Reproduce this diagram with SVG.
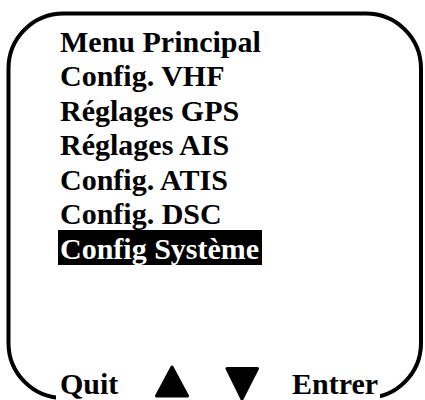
<svg xmlns="http://www.w3.org/2000/svg" width="425" height="400" viewBox="0 0 425 400">
  <style>
    .t { font-family: "Liberation Serif", "Times New Roman", serif; font-weight: bold; font-size: 30px; fill: #000; }
    .sel { fill: #fff; }
    .tri { fill: #000; stroke: #000; stroke-width: 3; stroke-linejoin: round; }
  </style>
  <rect width="425" height="400" fill="#fff"/>
  <g id="frame">
    <rect x="8.5" y="13.5" width="412.5" height="384.5" rx="55" ry="55" fill="none" stroke="#000" stroke-width="4"/>
  </g>
  <g id="menu">
    <text class="t" x="60" y="51.5">Menu Principal</text>
    <text class="t" x="60" y="86">Config. VHF</text>
    <text class="t" x="60" y="120.5">Réglages GPS</text>
    <text class="t" x="60" y="155">Réglages AIS</text>
    <text class="t" x="60" y="189.5">Config. ATIS</text>
    <text class="t" x="60" y="224">Config. DSC</text>
    <g id="selected">
      <rect x="58" y="230" width="204" height="35" fill="#000"/>
      <text class="t sel" x="60" y="258.5">Config Système</text>
    </g>
  </g>
  <g id="softkeys">
    <rect x="56" y="370" width="324" height="30" fill="#fff"/>
    <text class="t" x="60" y="394">Quit</text>
    <polygon class="tri" points="172,367 156.5,396 187.5,396"/>
    <polygon class="tri" points="227,368.5 257.5,368.5 242,399"/>
    <text class="t" x="292" y="394">Entrer</text>
  </g>
</svg>
